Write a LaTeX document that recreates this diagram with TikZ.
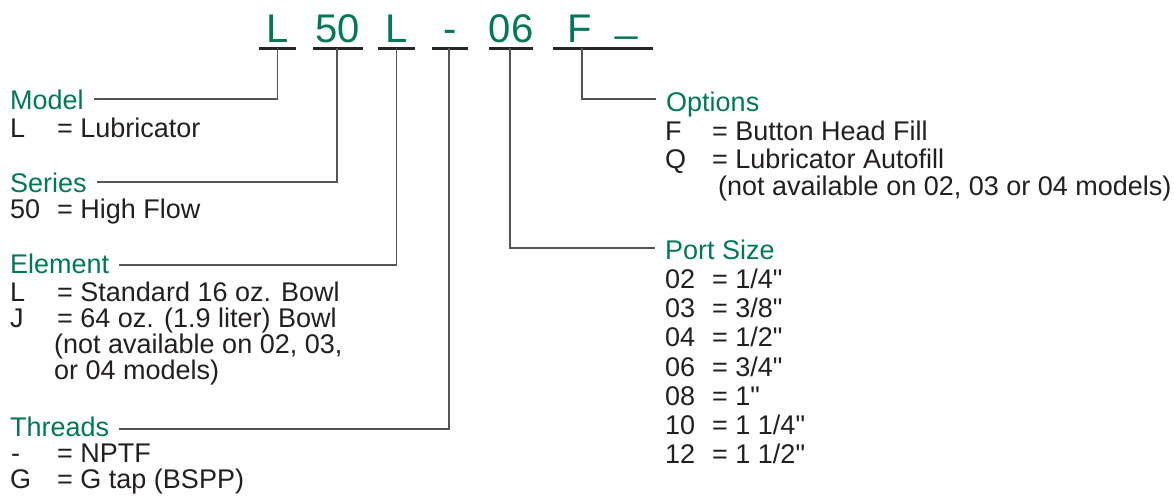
\documentclass[tikz,border=0pt]{standalone}
\usepackage{fontspec}
\setmainfont{Liberation Sans}[Ligatures=TeXOff]
\usetikzlibrary{calc}
\definecolor{hgreen}{RGB}{0,121,88}
\definecolor{btext}{RGB}{35,31,32}
\definecolor{lgray}{RGB}{85,85,85}
\newcommand{\dq}{\symbol{34}}
\begin{document}
\begin{tikzpicture}[x=1pt,y=1pt,
  codebox/.style={anchor=base,inner xsep=0pt,inner ysep=6pt,text depth=0pt,
    font=\fontsize{40}{40}\selectfont,text=hgreen},
  uline/.style={line width=3pt,draw=black!85},
  conn/.style={draw=lgray,line width=1.3pt},
  head/.style={anchor=west,inner xsep=10pt,inner ysep=0pt,text depth=0pt,
    font=\fontsize{27}{27}\selectfont,text=hgreen},
  body/.style={anchor=base west,inner sep=0pt,
    font=\fontsize{27}{27}\selectfont,text=btext}]
\useasboundingbox (0,0) rectangle (1174,-495);

% code
\node[codebox,minimum width=37pt] (c1) at (277.5,-42) {L};
\node[codebox,minimum width=50pt] (c2) at (338,-42) {50};
\node[codebox,minimum width=37pt] (c3) at (396.5,-42) {L};
\node[codebox,minimum width=36pt] (c4) at (450,-42) {-};
\node[codebox,minimum width=42pt] (c5) at (511,-42) {06};
\node[codebox,minimum width=100pt] (c6) at (603,-42) {F\kern23.6pt\raisebox{10.5pt}{\_}};
\foreach \n in {c1,c2,c3,c4,c5,c6}
  \draw[uline] (\n.south west) -- (\n.south east);
\coordinate (c6tap) at ([xshift=-21pt]c6.south);

% headings
\node[head,text height=20pt] (model) at (0,-99) {Model};
\node[head,text height=20pt] (series) at (0,-182) {Series};
\node[head,text height=16pt] (element) at (0,-265) {Element};
\node[head,text height=14pt] (threads) at (0,-429) {Threads};
\node[head,text height=25pt] (options) at (656,-99) {Options};
\node[head,text height=22pt] (port) at (655,-248) {Port Size};

% connectors
\draw[conn] (c1.south) |- (model.east);
\draw[conn] ([xshift=-1pt]c2.south) |- (series.east);
\draw[conn] (c3.south) |- (element.east);
\draw[conn] ([xshift=-1pt]c4.south) |- (threads.east);
\draw[conn] (c6tap) |- (options.west);
\draw[conn] ([xshift=-1pt]c5.south) |- (port.west);

% left body
\node[body] (m1k) at (10,-137) {L};
\node[body] (m1v) at (57,-137) {= Lubricator};
\node[body] (s1k) at (10,-218) {50};
\node[body] (s1v) at (57,-218) {= High Flow};
\node[body] (e1k) at (10,-301) {L};
\node[body] (e1v) at (57,-301) {= Standard 16 oz. Bowl};
\node[body] (e2k) at (10,-327) {J};
\node[body] (e2v) at (57,-327) {= 64 oz. (1.9 liter) Bowl};
\node[body] (e3) at (54,-353) {(not available on 02, 03,};
\node[body] (e4) at (54,-379) {or 04 models)};
\node[body] (t1k) at (11,-462) {-};
\node[body] (t1v) at (57,-462) {= NPTF};
\node[body] (t2k) at (10,-488) {G};
\node[body] (t2v) at (57,-488) {= G tap (BSPP)};

% right body
\node[body] (o1k) at (665,-140) {F};
\node[body] (o1v) at (712,-140) {= Button Head Fill};
\node[body] (o2k) at (665,-168) {Q};
\node[body] (o2v) at (712,-168) {= Lubricator Autofill};
\node[body] (o3) at (718,-195) {(not available on 02, 03 or 04 models)};
\foreach \k/\v/\y in {02/1\slash 4\dq/288, 03/3\slash 8\dq/317, 04/1\slash 2\dq/346, 06/3\slash 4\dq/376, 08/1\dq/405, 10/1 1\slash 4\dq/434, 12/1 1\slash 2\dq/463}
{
  \node[body] (p\k k) at (665,-\y) {\k};
  \node[body] (p\k v) at (712,-\y) {= \v};
}
\end{tikzpicture}
\end{document}
